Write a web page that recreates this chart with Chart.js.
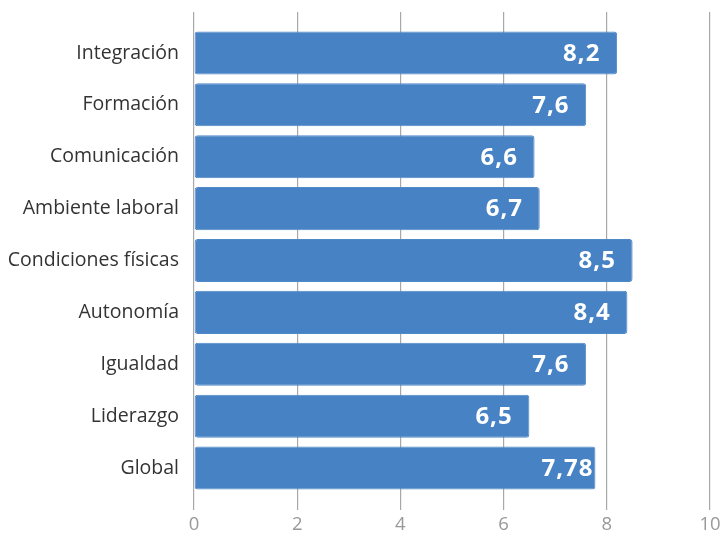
<!DOCTYPE html>
<html>
<head>
<meta charset="utf-8">
<script src="https://cdn.jsdelivr.net/npm/chart.js@4/dist/chart.umd.min.js"></script>
<style>
html,body{margin:0;padding:0;background:#fff;}
#wrap{width:722px;height:538px;}
</style>
</head>
<body>
<div id="wrap"><canvas id="c" width="722" height="538"></canvas></div>
<script>
const categories = ["Integración","Formación","Comunicación","Ambiente laboral","Condiciones físicas","Autonomía","Igualdad","Liderazgo","Global"];
const values = [8.2, 7.6, 6.6, 6.7, 8.5, 8.4, 7.6, 6.5, 7.78];
const xTicks = [0, 2, 4, 6, 8, 10];

const LFONT = "'Open Sans'";

const valueLabels = {
  id: 'valueLabels',
  afterDatasetsDraw(chart) {
    const ctx = chart.ctx;
    const meta = chart.getDatasetMeta(0);
    ctx.save();
    ctx.fillStyle = '#ffffff';
    ctx.font = 'bold 24px ' + LFONT;
    if ('letterSpacing' in ctx) ctx.letterSpacing = '1px';
    ctx.textAlign = 'left';
    ctx.textBaseline = 'middle';
    meta.data.forEach((bar, i) => {
      const txt = String(values[i]).replace('.', ',');
      ctx.fillText(txt, bar.x - 54, bar.y + 1);
    });
    ctx.restore();
  }
};

new Chart(document.getElementById('c'), {
  type: 'bar',
  data: {
    labels: categories,
    datasets: [{
      data: values,
      backgroundColor: '#4682c4',
      borderColor: '#5089c8',
      borderWidth: 1,
      borderRadius: 3,
      borderSkipped: false,
      barPercentage: 0.83,
      categoryPercentage: 1
    }]
  },
  options: {
    indexAxis: 'y',
    responsive: false,
    animation: false,
    layout: { padding: { top: 12, right: 12, bottom: 0, left: 0 } },
    plugins: { legend: { display: false }, tooltip: { enabled: false } },
    scales: {
      x: {
        position: 'bottom',
        min: 0, max: 10,
        afterBuildTicks: s => { s.ticks = xTicks.map(v => ({ value: v })); },
        afterFit: s => { s.height = 44; s.paddingRight = 0; s.paddingLeft = 0; },
        grid: { color: '#a8a8a8', lineWidth: 1.2, tickLength: 16, drawTicks: true },
        border: { display: false },
        ticks: { color: '#999999', font: { family: LFONT, size: 18.5 }, padding: 4 }
      },
      x2: {
        position: 'top',
        min: 0, max: 10,
        afterBuildTicks: s => { s.ticks = xTicks.map(v => ({ value: v })); },
        afterFit: s => { s.paddingRight = 0; s.paddingLeft = 0; },
        grid: { color: '#a8a8a8', lineWidth: 1.2, tickLength: 15, drawOnChartArea: false, drawTicks: true },
        border: { display: false },
        ticks: { display: false }
      },
      y: {
        afterFit: s => { s.width = 194; },
        grid: { display: false, drawTicks: false },
        border: { display: false },
        ticks: { color: '#333333', font: { family: LFONT, size: 19.5 }, padding: 15 }
      }
    }
  },
  plugins: [valueLabels]
});
</script>
</body>
</html>
